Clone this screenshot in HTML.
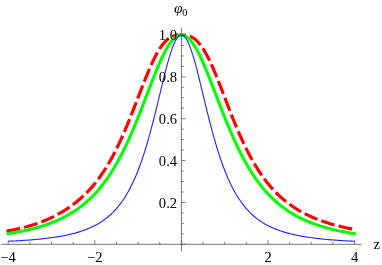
<!DOCTYPE html>
<html><head><meta charset="utf-8"><title>plot</title>
<style>
html,body{margin:0;padding:0;background:#fff;}
body{width:382px;height:265px;overflow:hidden;font-family:"Liberation Serif",serif;}
svg{display:block;transform:translateZ(0);will-change:transform;}
text{font-family:"Liberation Serif",serif;font-size:14.6px;fill:#000;}
</style></head><body>
<svg width="382" height="265" viewBox="0 0 382 265">
<rect width="382" height="265" fill="#fff"/>
<g stroke-linejoin="round">
<path d="M6.33,231.11 L7.21,230.96 L8.08,230.81 L8.95,230.66 L9.82,230.50 L10.70,230.34 L11.57,230.18 L12.44,230.01 L13.31,229.84 L14.19,229.67 L15.06,229.49 L15.93,229.31 L16.80,229.12 L17.68,228.93 L18.55,228.74 L19.42,228.54 L20.29,228.34 L21.17,228.13 L22.04,227.92 L22.91,227.71 L23.79,227.49 L24.66,227.26 L25.53,227.03 L26.40,226.80 L27.28,226.56 L28.15,226.32 L29.02,226.07 L29.89,225.82 L30.77,225.56 L31.64,225.29 L32.51,225.02 L33.38,224.75 L34.26,224.47 L35.13,224.18 L36.00,223.89 L36.87,223.59 L37.75,223.29 L38.62,222.98 L39.49,222.66 L40.37,222.34 L41.24,222.01 L42.11,221.68 L42.98,221.34 L43.86,220.99 L44.73,220.63 L45.60,220.27 L46.47,219.90 L47.35,219.52 L48.22,219.14 L49.09,218.75 L49.96,218.35 L50.84,217.94 L51.71,217.53 L52.58,217.11 L53.45,216.68 L54.33,216.24 L55.20,215.79 L56.07,215.33 L56.95,214.87 L57.82,214.40 L58.69,213.91 L59.56,213.42 L60.44,212.92 L61.31,212.41 L62.18,211.89 L63.05,211.36 L63.93,210.82 L64.80,210.28 L65.67,209.72 L66.54,209.15 L67.42,208.57 L68.29,207.98 L69.16,207.37 L70.03,206.76 L70.91,206.14 L71.78,205.50 L72.65,204.86 L73.53,204.20 L74.40,203.53 L75.27,202.85 L76.14,202.15 L77.02,201.44 L77.89,200.73 L78.76,199.99 L79.63,199.25 L80.51,198.49 L81.38,197.72 L82.25,196.94 L83.12,196.14 L84.00,195.32 L84.87,194.49 L85.74,193.64 L86.61,192.77 L87.49,191.88 L88.36,190.97 L89.23,190.04 L90.11,189.09 L90.98,188.13 L91.85,187.14 L92.72,186.13 L93.60,185.09 L94.47,184.04 L95.34,182.96 L96.21,181.86 L97.09,180.74 L97.96,179.59 L98.83,178.42 L99.70,177.23 L100.58,176.00 L101.45,174.76 L102.32,173.48 L103.19,172.18 L104.07,170.86 L104.94,169.50 L105.81,168.12 L106.69,166.71 L107.56,165.27 L108.43,163.81 L109.30,162.31 L110.18,160.78 L111.05,159.23 L111.92,157.64 L112.79,156.03 L113.67,154.38 L114.54,152.71 L115.41,151.00 L116.28,149.27 L117.16,147.50 L118.03,145.70 L118.90,143.88 L119.77,142.02 L120.65,140.13 L121.52,138.22 L122.39,136.27 L123.27,134.30 L124.14,132.30 L125.01,130.27 L125.88,128.22 L126.76,126.14 L127.63,124.04 L128.50,121.91 L129.37,119.76 L130.25,117.59 L131.12,115.41 L131.99,113.20 L132.86,110.98 L133.74,108.75 L134.61,106.50 L135.48,104.24 L136.35,101.98 L137.23,99.71 L138.10,97.44 L138.97,95.17 L139.85,92.90 L140.72,90.63 L141.59,88.38 L142.46,86.13 L143.34,83.90 L144.21,81.69 L145.08,79.50 L145.95,77.33 L146.83,75.19 L147.70,73.08 L148.57,71.00 L149.44,68.97 L150.32,66.97 L151.19,65.01 L152.06,63.10 L152.93,61.24 L153.81,59.44 L154.68,57.69 L155.55,55.99 L156.43,54.36 L157.30,52.79 L158.17,51.28 L159.04,49.84 L159.92,48.47 L160.79,47.16 L161.66,45.93 L162.53,44.76 L163.41,43.67 L164.28,42.65 L165.15,41.70 L166.02,40.83 L166.90,40.02 L167.77,39.28 L168.64,38.61 L169.51,38.01 L170.39,37.47 L171.26,36.99 L172.13,36.58 L173.01,36.22 L173.88,35.91 L174.75,35.66 L175.62,35.46 L176.50,35.30 L177.37,35.18 L178.24,35.09 L179.11,35.04 L179.99,35.01 L180.86,35.00 L181.73,35.00 L182.60,35.01 L183.48,35.03 L184.35,35.08 L185.22,35.15 L186.09,35.27 L186.97,35.42 L187.84,35.61 L188.71,35.85 L189.59,36.14 L190.46,36.48 L191.33,36.89 L192.20,37.35 L193.08,37.87 L193.95,38.46 L194.82,39.11 L195.69,39.83 L196.57,40.62 L197.44,41.49 L198.31,42.42 L199.18,43.42 L200.06,44.50 L200.93,45.64 L201.80,46.86 L202.67,48.15 L203.55,49.50 L204.42,50.93 L205.29,52.42 L206.17,53.98 L207.04,55.59 L207.91,57.27 L208.78,59.01 L209.66,60.81 L210.53,62.65 L211.40,64.55 L212.27,66.49 L213.15,68.48 L214.02,70.51 L214.89,72.58 L215.76,74.68 L216.64,76.82 L217.51,78.98 L218.38,81.16 L219.25,83.37 L220.13,85.60 L221.00,87.84 L221.87,90.09 L222.75,92.35 L223.62,94.62 L224.49,96.89 L225.36,99.17 L226.24,101.44 L227.11,103.70 L227.98,105.96 L228.85,108.21 L229.73,110.45 L230.60,112.67 L231.47,114.88 L232.34,117.07 L233.22,119.24 L234.09,121.40 L234.96,123.53 L235.83,125.64 L236.71,127.72 L237.58,129.78 L238.45,131.81 L239.33,133.82 L240.20,135.80 L241.07,137.75 L241.94,139.67 L242.82,141.57 L243.69,143.43 L244.56,145.27 L245.43,147.07 L246.31,148.84 L247.18,150.59 L248.05,152.30 L248.92,153.98 L249.80,155.64 L250.67,157.26 L251.54,158.85 L252.41,160.41 L253.29,161.95 L254.16,163.45 L255.03,164.92 L255.91,166.37 L256.78,167.79 L257.65,169.17 L258.52,170.53 L259.40,171.87 L260.27,173.17 L261.14,174.45 L262.01,175.71 L262.89,176.94 L263.76,178.14 L264.63,179.31 L265.50,180.47 L266.38,181.60 L267.25,182.70 L268.12,183.78 L268.99,184.84 L269.87,185.88 L270.74,186.90 L271.61,187.89 L272.49,188.86 L273.36,189.82 L274.23,190.75 L275.10,191.66 L275.98,192.56 L276.85,193.43 L277.72,194.29 L278.59,195.13 L279.47,195.95 L280.34,196.75 L281.21,197.54 L282.08,198.31 L282.96,199.06 L283.83,199.80 L284.70,200.52 L285.57,201.23 L286.45,201.93 L287.32,202.60 L288.19,203.27 L289.07,203.92 L289.94,204.56 L290.81,205.18 L291.68,205.80 L292.56,206.40 L293.43,206.99 L294.30,207.56 L295.17,208.13 L296.05,208.68 L296.92,209.22 L297.79,209.75 L298.66,210.27 L299.54,210.78 L300.41,211.28 L301.28,211.77 L302.15,212.25 L303.03,212.72 L303.90,213.19 L304.77,213.64 L305.65,214.08 L306.52,214.52 L307.39,214.95 L308.26,215.37 L309.14,215.78 L310.01,216.18 L310.88,216.58 L311.75,216.96 L312.63,217.34 L313.50,217.72 L314.37,218.08 L315.24,218.44 L316.12,218.80 L316.99,219.14 L317.86,219.49 L318.74,219.82 L319.61,220.15 L320.48,220.47 L321.35,220.79 L322.23,221.10 L323.10,221.40 L323.97,221.70 L324.84,222.00 L325.72,222.29 L326.59,222.57 L327.46,222.85 L328.33,223.12 L329.21,223.39 L330.08,223.66 L330.95,223.92 L331.82,224.17 L332.70,224.42 L333.57,224.67 L334.44,224.91 L335.32,225.15 L336.19,225.39 L337.06,225.62 L337.93,225.84 L338.81,226.07 L339.68,226.29 L340.55,226.50 L341.42,226.71 L342.30,226.92 L343.17,227.13 L344.04,227.33 L344.91,227.53 L345.79,227.72 L346.66,227.92 L347.53,228.11 L348.40,228.29 L349.28,228.48 L350.15,228.66 L351.02,228.83 L351.90,229.01 L352.77,229.18 L353.64,229.35 L354.51,229.52 L355.39,229.68" fill="none" stroke="#ff0000" stroke-width="3.15" stroke-dasharray="13.9 4.14" stroke-dashoffset="-0.15"/>
<path d="M8.28,233.75 L9.15,233.61 L10.01,233.47 L10.88,233.33 L11.74,233.19 L12.61,233.04 L13.47,232.89 L14.34,232.74 L15.20,232.58 L16.07,232.42 L16.94,232.26 L17.80,232.10 L18.67,231.93 L19.53,231.77 L20.40,231.59 L21.26,231.42 L22.13,231.24 L23.00,231.06 L23.86,230.88 L24.73,230.69 L25.59,230.50 L26.46,230.30 L27.32,230.11 L28.19,229.90 L29.05,229.70 L29.92,229.49 L30.79,229.28 L31.65,229.06 L32.52,228.84 L33.38,228.62 L34.25,228.39 L35.11,228.16 L35.98,227.92 L36.84,227.68 L37.71,227.43 L38.58,227.18 L39.44,226.93 L40.31,226.67 L41.17,226.40 L42.04,226.13 L42.90,225.86 L43.77,225.58 L44.64,225.29 L45.50,225.00 L46.37,224.71 L47.23,224.41 L48.10,224.10 L48.96,223.78 L49.83,223.46 L50.69,223.14 L51.56,222.81 L52.43,222.47 L53.29,222.12 L54.16,221.77 L55.02,221.41 L55.89,221.04 L56.75,220.67 L57.62,220.29 L58.48,219.90 L59.35,219.50 L60.22,219.10 L61.08,218.69 L61.95,218.27 L62.81,217.84 L63.68,217.40 L64.54,216.95 L65.41,216.50 L66.28,216.03 L67.14,215.56 L68.01,215.07 L68.87,214.58 L69.74,214.07 L70.60,213.56 L71.47,213.03 L72.33,212.50 L73.20,211.95 L74.07,211.39 L74.93,210.82 L75.80,210.24 L76.66,209.65 L77.53,209.04 L78.39,208.42 L79.26,207.79 L80.12,207.14 L80.99,206.49 L81.86,205.81 L82.72,205.13 L83.59,204.43 L84.45,203.71 L85.32,202.98 L86.18,202.23 L87.05,201.47 L87.92,200.70 L88.78,199.90 L89.65,199.09 L90.51,198.26 L91.38,197.42 L92.24,196.56 L93.11,195.68 L93.97,194.78 L94.84,193.86 L95.71,192.92 L96.57,191.97 L97.44,190.99 L98.30,189.99 L99.17,188.98 L100.03,187.94 L100.90,186.88 L101.76,185.80 L102.63,184.69 L103.50,183.57 L104.36,182.42 L105.23,181.25 L106.09,180.05 L106.96,178.83 L107.82,177.59 L108.69,176.32 L109.56,175.03 L110.42,173.71 L111.29,172.37 L112.15,171.00 L113.02,169.60 L113.88,168.18 L114.75,166.73 L115.61,165.25 L116.48,163.75 L117.35,162.22 L118.21,160.66 L119.08,159.07 L119.94,157.46 L120.81,155.82 L121.67,154.15 L122.54,152.45 L123.40,150.72 L124.27,148.97 L125.14,147.19 L126.00,145.38 L126.87,143.54 L127.73,141.67 L128.60,139.78 L129.46,137.86 L130.33,135.92 L131.20,133.95 L132.06,131.95 L132.93,129.94 L133.79,127.89 L134.66,125.82 L135.52,123.74 L136.39,121.63 L137.25,119.49 L138.12,117.35 L138.99,115.18 L139.85,112.99 L140.72,110.79 L141.58,108.58 L142.45,106.35 L143.31,104.12 L144.18,101.87 L145.04,99.62 L145.91,97.36 L146.78,95.10 L147.64,92.84 L148.51,90.58 L149.37,88.33 L150.24,86.08 L151.10,83.84 L151.97,81.62 L152.84,79.40 L153.70,77.21 L154.57,75.04 L155.43,72.89 L156.30,70.76 L157.16,68.67 L158.03,66.61 L158.89,64.59 L159.76,62.61 L160.63,60.67 L161.49,58.77 L162.36,56.93 L163.22,55.14 L164.09,53.41 L164.95,51.73 L165.82,50.12 L166.68,48.58 L167.55,47.10 L168.42,45.70 L169.28,44.37 L170.15,43.12 L171.01,41.95 L171.88,40.87 L172.74,39.87 L173.61,38.96 L174.48,38.14 L175.34,37.41 L176.21,36.78 L177.07,36.24 L177.94,35.79 L178.80,35.45 L179.67,35.20 L180.53,35.05 L181.40,35.00 L182.27,35.05 L183.13,35.20 L184.00,35.45 L184.86,35.79 L185.73,36.24 L186.59,36.78 L187.46,37.41 L188.32,38.14 L189.19,38.96 L190.06,39.87 L190.92,40.87 L191.79,41.95 L192.65,43.12 L193.52,44.37 L194.38,45.70 L195.25,47.10 L196.12,48.58 L196.98,50.12 L197.85,51.73 L198.71,53.41 L199.58,55.14 L200.44,56.93 L201.31,58.77 L202.17,60.67 L203.04,62.61 L203.91,64.59 L204.77,66.61 L205.64,68.67 L206.50,70.76 L207.37,72.89 L208.23,75.04 L209.10,77.21 L209.96,79.40 L210.83,81.62 L211.70,83.84 L212.56,86.08 L213.43,88.33 L214.29,90.58 L215.16,92.84 L216.02,95.10 L216.89,97.36 L217.76,99.62 L218.62,101.87 L219.49,104.12 L220.35,106.35 L221.22,108.58 L222.08,110.79 L222.95,112.99 L223.81,115.18 L224.68,117.35 L225.55,119.49 L226.41,121.63 L227.28,123.74 L228.14,125.82 L229.01,127.89 L229.87,129.94 L230.74,131.95 L231.60,133.95 L232.47,135.92 L233.34,137.86 L234.20,139.78 L235.07,141.67 L235.93,143.54 L236.80,145.38 L237.66,147.19 L238.53,148.97 L239.40,150.72 L240.26,152.45 L241.13,154.15 L241.99,155.82 L242.86,157.46 L243.72,159.07 L244.59,160.66 L245.45,162.22 L246.32,163.75 L247.19,165.25 L248.05,166.73 L248.92,168.18 L249.78,169.60 L250.65,171.00 L251.51,172.37 L252.38,173.71 L253.24,175.03 L254.11,176.32 L254.98,177.59 L255.84,178.83 L256.71,180.05 L257.57,181.25 L258.44,182.42 L259.30,183.57 L260.17,184.69 L261.04,185.80 L261.90,186.88 L262.77,187.94 L263.63,188.98 L264.50,189.99 L265.36,190.99 L266.23,191.97 L267.09,192.92 L267.96,193.86 L268.83,194.78 L269.69,195.68 L270.56,196.56 L271.42,197.42 L272.29,198.26 L273.15,199.09 L274.02,199.90 L274.88,200.70 L275.75,201.47 L276.62,202.23 L277.48,202.98 L278.35,203.71 L279.21,204.43 L280.08,205.13 L280.94,205.81 L281.81,206.49 L282.68,207.14 L283.54,207.79 L284.41,208.42 L285.27,209.04 L286.14,209.65 L287.00,210.24 L287.87,210.82 L288.73,211.39 L289.60,211.95 L290.47,212.50 L291.33,213.03 L292.20,213.56 L293.06,214.07 L293.93,214.58 L294.79,215.07 L295.66,215.56 L296.52,216.03 L297.39,216.50 L298.26,216.95 L299.12,217.40 L299.99,217.84 L300.85,218.27 L301.72,218.69 L302.58,219.10 L303.45,219.50 L304.32,219.90 L305.18,220.29 L306.05,220.67 L306.91,221.04 L307.78,221.41 L308.64,221.77 L309.51,222.12 L310.37,222.47 L311.24,222.81 L312.11,223.14 L312.97,223.46 L313.84,223.78 L314.70,224.10 L315.57,224.41 L316.43,224.71 L317.30,225.00 L318.16,225.29 L319.03,225.58 L319.90,225.86 L320.76,226.13 L321.63,226.40 L322.49,226.67 L323.36,226.93 L324.22,227.18 L325.09,227.43 L325.96,227.68 L326.82,227.92 L327.69,228.16 L328.55,228.39 L329.42,228.62 L330.28,228.84 L331.15,229.06 L332.01,229.28 L332.88,229.49 L333.75,229.70 L334.61,229.90 L335.48,230.11 L336.34,230.30 L337.21,230.50 L338.07,230.69 L338.94,230.88 L339.80,231.06 L340.67,231.24 L341.54,231.42 L342.40,231.59 L343.27,231.77 L344.13,231.93 L345.00,232.10 L345.86,232.26 L346.73,232.42 L347.60,232.58 L348.46,232.74 L349.33,232.89 L350.19,233.04 L351.06,233.19 L351.92,233.33 L352.79,233.47 L353.65,233.61 L354.52,233.75" fill="none" stroke="#00ff00" stroke-width="3.05" stroke-linecap="square"/>
<path d="M8.28,241.31 L9.15,241.27 L10.01,241.23 L10.88,241.18 L11.74,241.14 L12.61,241.09 L13.47,241.05 L14.34,241.00 L15.20,240.95 L16.07,240.90 L16.94,240.85 L17.80,240.80 L18.67,240.75 L19.53,240.69 L20.40,240.64 L21.26,240.58 L22.13,240.53 L23.00,240.47 L23.86,240.41 L24.73,240.35 L25.59,240.29 L26.46,240.22 L27.32,240.16 L28.19,240.10 L29.05,240.03 L29.92,239.96 L30.79,239.89 L31.65,239.82 L32.52,239.75 L33.38,239.67 L34.25,239.60 L35.11,239.52 L35.98,239.44 L36.84,239.36 L37.71,239.28 L38.58,239.19 L39.44,239.11 L40.31,239.02 L41.17,238.93 L42.04,238.84 L42.90,238.75 L43.77,238.65 L44.64,238.55 L45.50,238.45 L46.37,238.35 L47.23,238.24 L48.10,238.14 L48.96,238.03 L49.83,237.91 L50.69,237.80 L51.56,237.68 L52.43,237.56 L53.29,237.44 L54.16,237.31 L55.02,237.18 L55.89,237.05 L56.75,236.91 L57.62,236.77 L58.48,236.63 L59.35,236.49 L60.22,236.34 L61.08,236.18 L61.95,236.03 L62.81,235.87 L63.68,235.70 L64.54,235.53 L65.41,235.36 L66.28,235.18 L67.14,235.00 L68.01,234.81 L68.87,234.62 L69.74,234.42 L70.60,234.22 L71.47,234.01 L72.33,233.80 L73.20,233.58 L74.07,233.35 L74.93,233.12 L75.80,232.89 L76.66,232.64 L77.53,232.39 L78.39,232.13 L79.26,231.87 L80.12,231.60 L80.99,231.32 L81.86,231.03 L82.72,230.74 L83.59,230.43 L84.45,230.12 L85.32,229.80 L86.18,229.47 L87.05,229.13 L87.92,228.78 L88.78,228.42 L89.65,228.05 L90.51,227.67 L91.38,227.27 L92.24,226.87 L93.11,226.45 L93.97,226.02 L94.84,225.58 L95.71,225.12 L96.57,224.65 L97.44,224.17 L98.30,223.67 L99.17,223.15 L100.03,222.62 L100.90,222.08 L101.76,221.51 L102.63,220.93 L103.50,220.33 L104.36,219.71 L105.23,219.07 L106.09,218.41 L106.96,217.72 L107.82,217.02 L108.69,216.29 L109.56,215.54 L110.42,214.77 L111.29,213.97 L112.15,213.14 L113.02,212.29 L113.88,211.40 L114.75,210.49 L115.61,209.55 L116.48,208.58 L117.35,207.57 L118.21,206.53 L119.08,205.46 L119.94,204.35 L120.81,203.20 L121.67,202.02 L122.54,200.79 L123.40,199.52 L124.27,198.21 L125.14,196.86 L126.00,195.46 L126.87,194.02 L127.73,192.52 L128.60,190.98 L129.46,189.39 L130.33,187.74 L131.20,186.04 L132.06,184.28 L132.93,182.47 L133.79,180.59 L134.66,178.66 L135.52,176.67 L136.39,174.61 L137.25,172.49 L138.12,170.30 L138.99,168.05 L139.85,165.73 L140.72,163.34 L141.58,160.88 L142.45,158.35 L143.31,155.75 L144.18,153.08 L145.04,150.34 L145.91,147.53 L146.78,144.64 L147.64,141.69 L148.51,138.67 L149.37,135.59 L150.24,132.44 L151.10,129.22 L151.97,125.95 L152.84,122.62 L153.70,119.24 L154.57,115.81 L155.43,112.33 L156.30,108.82 L157.16,105.28 L158.03,101.71 L158.89,98.13 L159.76,94.54 L160.63,90.94 L161.49,87.36 L162.36,83.80 L163.22,80.26 L164.09,76.77 L164.95,73.34 L165.82,69.97 L166.68,66.67 L167.55,63.47 L168.42,60.38 L169.28,57.40 L170.15,54.56 L171.01,51.86 L171.88,49.33 L172.74,46.96 L173.61,44.78 L174.48,42.79 L175.34,41.01 L176.21,39.44 L177.07,38.10 L177.94,36.99 L178.80,36.13 L179.67,35.50 L180.53,35.13 L181.40,35.00 L182.27,35.13 L183.13,35.50 L184.00,36.13 L184.86,36.99 L185.73,38.10 L186.59,39.44 L187.46,41.01 L188.32,42.79 L189.19,44.78 L190.06,46.96 L190.92,49.33 L191.79,51.86 L192.65,54.56 L193.52,57.40 L194.38,60.38 L195.25,63.47 L196.12,66.67 L196.98,69.97 L197.85,73.34 L198.71,76.77 L199.58,80.26 L200.44,83.80 L201.31,87.36 L202.17,90.94 L203.04,94.54 L203.91,98.13 L204.77,101.71 L205.64,105.28 L206.50,108.82 L207.37,112.33 L208.23,115.81 L209.10,119.24 L209.96,122.62 L210.83,125.95 L211.70,129.22 L212.56,132.44 L213.43,135.59 L214.29,138.67 L215.16,141.69 L216.02,144.64 L216.89,147.53 L217.76,150.34 L218.62,153.08 L219.49,155.75 L220.35,158.35 L221.22,160.88 L222.08,163.34 L222.95,165.73 L223.81,168.05 L224.68,170.30 L225.55,172.49 L226.41,174.61 L227.28,176.67 L228.14,178.66 L229.01,180.59 L229.87,182.47 L230.74,184.28 L231.60,186.04 L232.47,187.74 L233.34,189.39 L234.20,190.98 L235.07,192.52 L235.93,194.02 L236.80,195.46 L237.66,196.86 L238.53,198.21 L239.40,199.52 L240.26,200.79 L241.13,202.02 L241.99,203.20 L242.86,204.35 L243.72,205.46 L244.59,206.53 L245.45,207.57 L246.32,208.58 L247.19,209.55 L248.05,210.49 L248.92,211.40 L249.78,212.29 L250.65,213.14 L251.51,213.97 L252.38,214.77 L253.24,215.54 L254.11,216.29 L254.98,217.02 L255.84,217.72 L256.71,218.41 L257.57,219.07 L258.44,219.71 L259.30,220.33 L260.17,220.93 L261.04,221.51 L261.90,222.08 L262.77,222.62 L263.63,223.15 L264.50,223.67 L265.36,224.17 L266.23,224.65 L267.09,225.12 L267.96,225.58 L268.83,226.02 L269.69,226.45 L270.56,226.87 L271.42,227.27 L272.29,227.67 L273.15,228.05 L274.02,228.42 L274.88,228.78 L275.75,229.13 L276.62,229.47 L277.48,229.80 L278.35,230.12 L279.21,230.43 L280.08,230.74 L280.94,231.03 L281.81,231.32 L282.68,231.60 L283.54,231.87 L284.41,232.13 L285.27,232.39 L286.14,232.64 L287.00,232.89 L287.87,233.12 L288.73,233.35 L289.60,233.58 L290.47,233.80 L291.33,234.01 L292.20,234.22 L293.06,234.42 L293.93,234.62 L294.79,234.81 L295.66,235.00 L296.52,235.18 L297.39,235.36 L298.26,235.53 L299.12,235.70 L299.99,235.87 L300.85,236.03 L301.72,236.18 L302.58,236.34 L303.45,236.49 L304.32,236.63 L305.18,236.77 L306.05,236.91 L306.91,237.05 L307.78,237.18 L308.64,237.31 L309.51,237.44 L310.37,237.56 L311.24,237.68 L312.11,237.80 L312.97,237.91 L313.84,238.03 L314.70,238.14 L315.57,238.24 L316.43,238.35 L317.30,238.45 L318.16,238.55 L319.03,238.65 L319.90,238.75 L320.76,238.84 L321.63,238.93 L322.49,239.02 L323.36,239.11 L324.22,239.19 L325.09,239.28 L325.96,239.36 L326.82,239.44 L327.69,239.52 L328.55,239.60 L329.42,239.67 L330.28,239.75 L331.15,239.82 L332.01,239.89 L332.88,239.96 L333.75,240.03 L334.61,240.10 L335.48,240.16 L336.34,240.22 L337.21,240.29 L338.07,240.35 L338.94,240.41 L339.80,240.47 L340.67,240.53 L341.54,240.58 L342.40,240.64 L343.27,240.69 L344.13,240.75 L345.00,240.80 L345.86,240.85 L346.73,240.90 L347.60,240.95 L348.46,241.00 L349.33,241.05 L350.19,241.09 L351.06,241.14 L351.92,241.18 L352.79,241.23 L353.65,241.27 L354.52,241.31" fill="none" stroke="#2424ff" stroke-width="1.12"/>
</g>
<g stroke="#4c4c4c" stroke-width="0.78" fill="none">
<line x1="1.3" y1="244.3" x2="361.6" y2="244.3"/>
<line x1="181.4" y1="28.0" x2="181.4" y2="251.3"/>
</g>
<g stroke="#4c4c4c" stroke-width="0.7" fill="none">
<line x1="8.28" y1="244.3" x2="8.28" y2="240.20"/>
<line x1="29.92" y1="244.3" x2="29.92" y2="241.90"/>
<line x1="51.56" y1="244.3" x2="51.56" y2="241.90"/>
<line x1="73.20" y1="244.3" x2="73.20" y2="241.90"/>
<line x1="94.84" y1="244.3" x2="94.84" y2="240.20"/>
<line x1="116.48" y1="244.3" x2="116.48" y2="241.90"/>
<line x1="138.12" y1="244.3" x2="138.12" y2="241.90"/>
<line x1="159.76" y1="244.3" x2="159.76" y2="241.90"/>
<line x1="181.40" y1="244.3" x2="181.40" y2="240.20"/>
<line x1="203.04" y1="244.3" x2="203.04" y2="241.90"/>
<line x1="224.68" y1="244.3" x2="224.68" y2="241.90"/>
<line x1="246.32" y1="244.3" x2="246.32" y2="241.90"/>
<line x1="267.96" y1="244.3" x2="267.96" y2="240.20"/>
<line x1="289.60" y1="244.3" x2="289.60" y2="241.90"/>
<line x1="311.24" y1="244.3" x2="311.24" y2="241.90"/>
<line x1="332.88" y1="244.3" x2="332.88" y2="241.90"/>
<line x1="354.52" y1="244.3" x2="354.52" y2="240.20"/>
<line x1="181.4" y1="244.30" x2="185.60" y2="244.30"/>
<line x1="181.4" y1="233.84" x2="183.90" y2="233.84"/>
<line x1="181.4" y1="223.37" x2="183.90" y2="223.37"/>
<line x1="181.4" y1="212.91" x2="183.90" y2="212.91"/>
<line x1="181.4" y1="202.44" x2="185.60" y2="202.44"/>
<line x1="181.4" y1="191.98" x2="183.90" y2="191.98"/>
<line x1="181.4" y1="181.51" x2="183.90" y2="181.51"/>
<line x1="181.4" y1="171.05" x2="183.90" y2="171.05"/>
<line x1="181.4" y1="160.58" x2="185.60" y2="160.58"/>
<line x1="181.4" y1="150.12" x2="183.90" y2="150.12"/>
<line x1="181.4" y1="139.65" x2="183.90" y2="139.65"/>
<line x1="181.4" y1="129.19" x2="183.90" y2="129.19"/>
<line x1="181.4" y1="118.72" x2="185.60" y2="118.72"/>
<line x1="181.4" y1="108.25" x2="183.90" y2="108.25"/>
<line x1="181.4" y1="97.79" x2="183.90" y2="97.79"/>
<line x1="181.4" y1="87.32" x2="183.90" y2="87.32"/>
<line x1="181.4" y1="76.86" x2="185.60" y2="76.86"/>
<line x1="181.4" y1="66.39" x2="183.90" y2="66.39"/>
<line x1="181.4" y1="55.93" x2="183.90" y2="55.93"/>
<line x1="181.4" y1="45.46" x2="183.90" y2="45.46"/>
<line x1="181.4" y1="35.00" x2="185.60" y2="35.00"/>
</g>
<g>
<text x="8.13" y="261.6" text-anchor="middle">−4</text>
<text x="94.69" y="261.6" text-anchor="middle">−2</text>
<text x="268.16" y="261.6" text-anchor="middle">2</text>
<text x="354.72" y="261.6" text-anchor="middle">4</text>
<text x="177.1" y="207.84" text-anchor="end">0.2</text>
<text x="177.1" y="165.98" text-anchor="end">0.4</text>
<text x="177.1" y="124.12" text-anchor="end">0.6</text>
<text x="177.1" y="82.26" text-anchor="end">0.8</text>
<text x="177.1" y="40.40" text-anchor="end">1.0</text>
<text x="373.6" y="249.1">z</text>
<text transform="translate(174.0 13.1) scale(1.07 1)" font-style="italic">φ</text>
<text x="182.2" y="15.6" style="font-size:10.3px">0</text>
</g>
</svg>
</body></html>
